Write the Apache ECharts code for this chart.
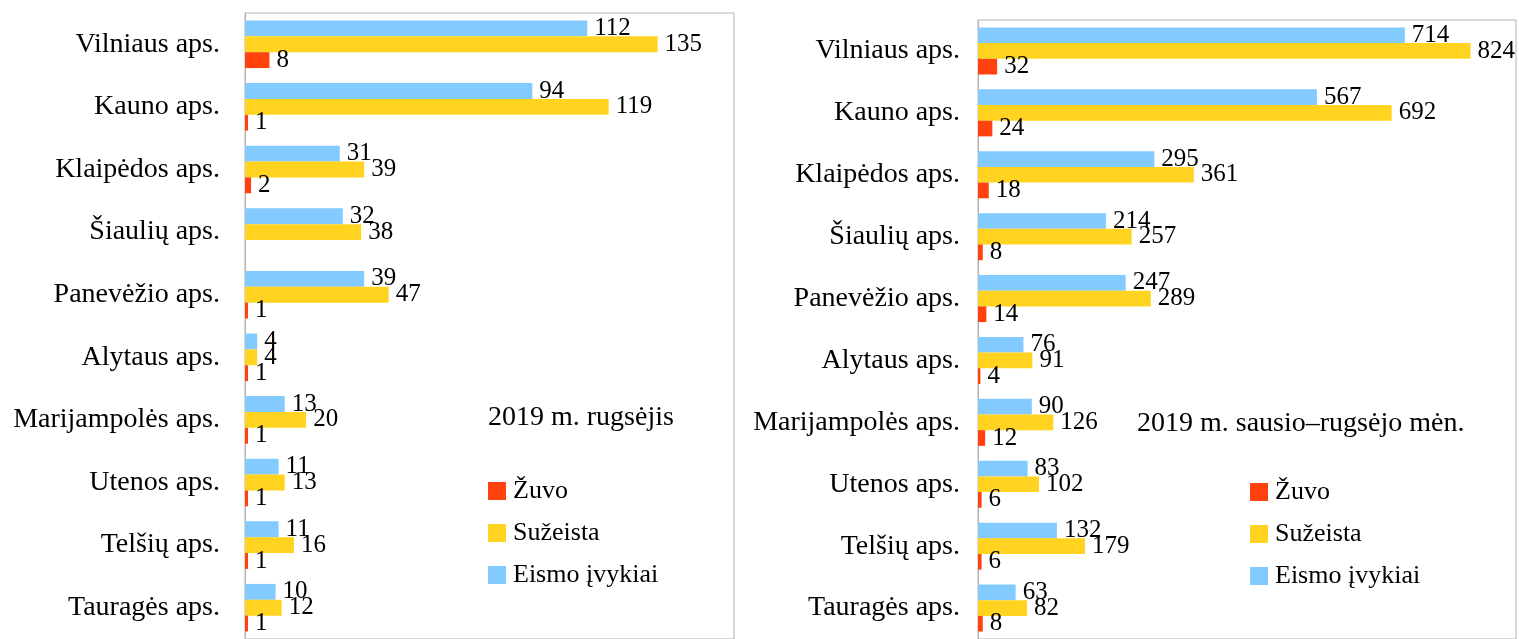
<!DOCTYPE html>
<html>
<head>
<meta charset="utf-8">
<script src="https://cdn.jsdelivr.net/npm/echarts@6/dist/echarts.min.js"></script>
<style>
  html, body { margin: 0; padding: 0; background: #fff; }
  #chart { width: 1519px; height: 639px; }
</style>
</head>
<body>
<div id="chart"></div>
<script>
// Eismo įvykiai pagal apskritis, 2019 m.
const categories = ['Vilniaus aps.', 'Kauno aps.', 'Klaipėdos aps.', 'Šiaulių aps.', 'Panevėžio aps.',
  'Alytaus aps.', 'Marijampolės aps.', 'Utenos aps.', 'Telšių aps.', 'Tauragės aps.']

// 2019 m. rugsėjis
const sepZuvo     = [8, 1, 2, 0, 1, 1, 1, 1, 1, 1]
const sepSuzeista = [135, 119, 39, 38, 47, 4, 20, 13, 16, 12]
const sepEismo    = [112, 94, 31, 32, 39, 4, 13, 11, 11, 10]

// 2019 m. sausio–rugsėjo mėn.
const ytdZuvo     = [32, 24, 18, 8, 14, 4, 12, 6, 6, 8]
const ytdSuzeista = [824, 692, 361, 257, 289, 91, 126, 102, 179, 82]
const ytdEismo    = [714, 567, 295, 214, 247, 76, 90, 83, 132, 63]

const FONT = "'Liberation Serif', 'Times New Roman', serif"
const C_RED = '#FF420E', C_YEL = '#FFD320', C_BLUE = '#83CAFF'
const GRAY = '#b3b3b3'

const chart = echarts.init(document.getElementById('chart'), null, { renderer: 'canvas' })

// zero values get no label (Šiaulių aps. has no "Žuvo" mark)
const label = {
  show: true,
  position: 'right',
  distance: 7,
  color: '#000',
  fontFamily: FONT,
  fontSize: 25,
  formatter: (p) => (p.value ? p.value : ''),
}

function bars(idx, eismo, suzeista, zuvo) {
  const base = { type: 'bar', xAxisIndex: idx, yAxisIndex: idx, barGap: '0%', barCategoryGap: '24%', label, animation: false }
  return [
    { ...base, name: 'Eismo įvykiai', data: eismo, itemStyle: { color: C_BLUE } },
    { ...base, name: 'Sužeista', data: suzeista, itemStyle: { color: C_YEL } },
    { ...base, name: 'Žuvo', data: zuvo, itemStyle: { color: C_RED } },
  ]
}

function yAxis(idx, margin) {
  return {
    type: 'category',
    gridIndex: idx,
    inverse: true,
    data: categories,
    axisLine: { lineStyle: { color: GRAY } },
    axisTick: { length: 10, lineStyle: { color: GRAY } },
    axisLabel: { color: '#000', fontFamily: FONT, fontSize: 28, margin },
  }
}

function legend(left, top) {
  return {
    orient: 'vertical',
    left, top,
    data: ['Žuvo', 'Sužeista', 'Eismo įvykiai'],
    itemWidth: 18,
    itemHeight: 18,
    itemGap: 16,
    icon: 'rect',
    selectedMode: false,
    textStyle: { color: '#000', fontFamily: FONT, fontSize: 26, lineHeight: 26, padding: [0, 0, 0, 2] },
  }
}

const titleStyle = { color: '#000', fontFamily: FONT, fontSize: 28, fontWeight: 'normal' }

chart.setOption({
  backgroundColor: '#fff',
  title: [
    { text: '2019 m. rugsėjis', left: 488, top: 404, textStyle: titleStyle, padding: 0 },
    { text: '2019 m. sausio–rugsėjo mėn.', left: 1137, top: 410, textStyle: titleStyle, padding: 0 },
  ],
  legend: [legend(483, 473), legend(1245, 474)],
  grid: [
    { left: 245, top: 13, width: 489, height: 632, show: true, borderColor: GRAY, borderWidth: 1 },
    { left: 978, top: 20, width: 538, height: 620, show: true, borderColor: GRAY, borderWidth: 1 },
  ],
  xAxis: [
    { type: 'value', gridIndex: 0, min: 0, max: 160, show: false },
    { type: 'value', gridIndex: 1, min: 0, max: 900, show: false },
  ],
  yAxis: [yAxis(0, 25), yAxis(1, 18)],
  series: [
    ...bars(0, sepEismo, sepSuzeista, sepZuvo),
    ...bars(1, ytdEismo, ytdSuzeista, ytdZuvo),
  ],
})

window.addEventListener('resize', () => chart.resize())
</script>
</body>
</html>
